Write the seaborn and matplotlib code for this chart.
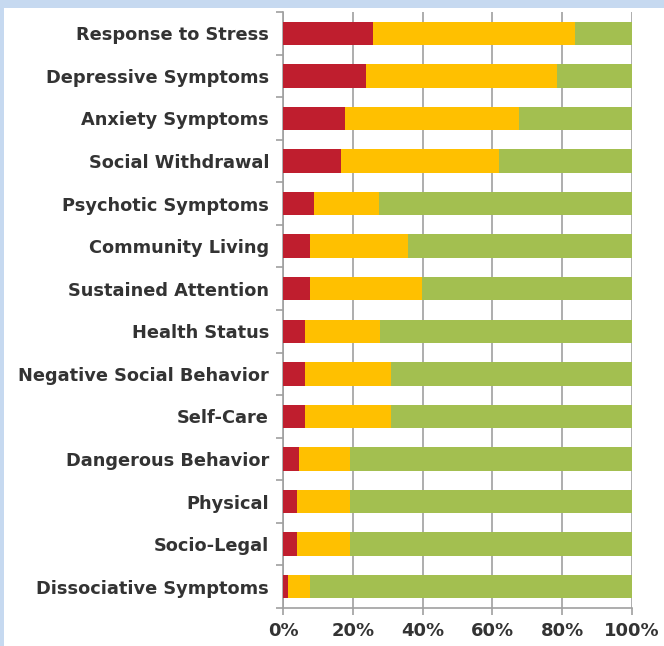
import matplotlib
matplotlib.use("Agg")
import matplotlib.pyplot as plt
import seaborn as sns
import pandas as pd
from matplotlib.patches import Rectangle
from matplotlib.ticker import FixedLocator

categories = ["Response to Stress", "Depressive Symptoms", "Anxiety Symptoms",
              "Social Withdrawal", "Psychotic Symptoms", "Community Living",
              "Sustained Attention", "Health Status", "Negative Social Behavior",
              "Self-Care", "Dangerous Behavior", "Physical", "Socio-Legal",
              "Dissociative Symptoms"]
red_vals = [25.8, 23.9, 17.9, 16.5, 9.0, 7.6, 7.6, 6.3, 6.3, 6.3, 4.6, 4.1, 4.1, 1.5]
yellow_vals = [57.8, 54.7, 49.8, 45.5, 18.4, 28.1, 32.1, 21.5, 24.6, 24.6, 14.5, 15.0, 15.0, 6.1]
green_vals = [100 - r - y for r, y in zip(red_vals, yellow_vals)]
xticks = [0, 20, 40, 60, 80, 100]
xtick_labels = ["0%", "20%", "40%", "60%", "80%", "100%"]

df = pd.DataFrame({"cat": categories, "red": red_vals, "yellow": yellow_vals, "green": green_vals})
df["c_red"] = df["red"]
df["c_yellow"] = df["red"] + df["yellow"]
df["c_green"] = df["c_yellow"] + df["green"]

sns.set_style("white")
plt.rcParams['font.family'] = ['DejaVu Sans']

fig = plt.figure(figsize=(6.64, 6.46), dpi=100)
fig.patch.set_facecolor("white")
# light blue frame at top and left
fig.patches.append(Rectangle((0, 1 - 8/646), 1, 8/646, transform=fig.transFigure,
                             facecolor="#C6D9F0", edgecolor="none", zorder=0))
fig.patches.append(Rectangle((0, 0), 4/664, 1, transform=fig.transFigure,
                             facecolor="#C6D9F0", edgecolor="none", zorder=0))

ax = fig.add_axes([283/664, 1 - 608/646, (632 - 283)/664, (608 - 12)/646])

for col, color in [("c_green", "#A3BF50"), ("c_yellow", "#FFC000"), ("c_red", "#BF1E2E")]:
    sns.barplot(data=df, x=col, y="cat", color=color, width=0.55, linewidth=0,
                saturation=1, ax=ax, zorder=3, orient="h")

ax.set_xlim(0, 100)
ax.set_ylim(len(categories) - 0.5, -0.5)
ax.set_xlabel("")
ax.set_ylabel("")
ax.set_xticks(xticks)
ax.set_xticklabels(xtick_labels)
ax.xaxis.grid(True, color="#A0A0A0", linewidth=1.2, zorder=0)
ax.yaxis.grid(False)
ax.set_axisbelow(True)

for s in ["top", "right"]:
    ax.spines[s].set_visible(False)
for s in ["left", "bottom"]:
    ax.spines[s].set_visible(True)
    ax.spines[s].set_color("#A0A0A0")
    ax.spines[s].set_linewidth(1.2)

ax.yaxis.set_minor_locator(FixedLocator([i - 0.5 for i in range(len(categories) + 1)]))
ax.tick_params(axis="y", which="major", length=0, pad=10, labelsize=12.8, labelcolor="#333333")
ax.tick_params(axis="y", which="minor", length=5, width=1.2, color="#A0A0A0", left=True)
ax.tick_params(axis="x", which="major", length=5, width=1.2, color="#A0A0A0", bottom=True,
               labelsize=13, labelcolor="#333333", pad=5)
for lbl in ax.get_yticklabels() + ax.get_xticklabels():
    lbl.set_fontweight("bold")

fig.savefig("out.png", dpi=100)
